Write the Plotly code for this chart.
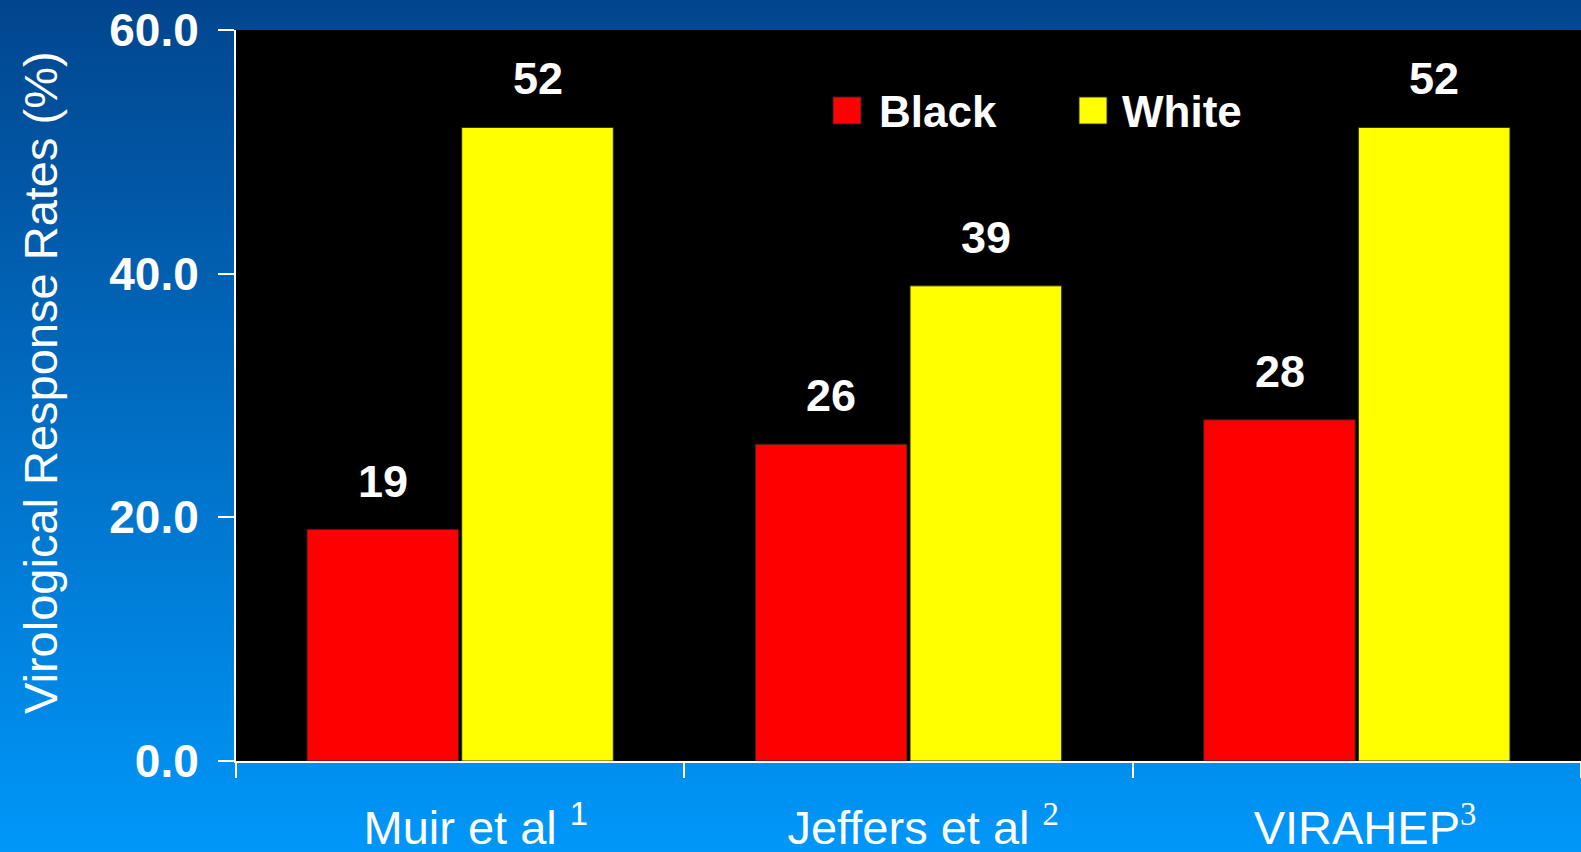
import base64
import plotly.graph_objects as go

# ---- data ----
studies = ["Muir et al", "Jeffers et al", "VIRAHEP"]
refs = ["1", "2", "3"]
series_names = ["Black", "White"]
black_vals = [19, 26, 28]
white_vals = [52, 39, 52]
y_ticks = [0, 20, 40, 60]

# ---- style ----
W, H = 1581, 852
ML, MR, MT, MB = 236, 0, 30, 91
PW, PH = W - ML - MR, H - MT - MB
colors = ["#FF0000", "#FFFF00"]
SANS = "Liberation Sans, Arial, sans-serif"
SERIF = "Liberation Serif, Times New Roman, serif"
BARGAP = 0.31

ticktext = []
for s, r in zip(studies, refs):
    fam = SANS if r == "1" else SERIF
    sep = "" if r == "3" else " "
    sup = f"<sup><span style='font-family:{fam}'>{r}</span></sup>"
    pad = f"<sup><span style='font-family:{fam};fill-opacity:0'>{r}</span></sup>"
    ticktext.append(f"{pad}{sep}{s}{sep}{sup}")

fig = go.Figure()
for name, vals, col in zip(series_names, [black_vals, white_vals], colors):
    fig.add_trace(go.Bar(
        name=name, x=studies, y=vals,
        marker=dict(color=col, line=dict(color="rgba(40,40,40,0.9)", width=1)),
        showlegend=False,
    ))

# value labels
annotations = []
slot = (1 - BARGAP) / 2
for k, vals in enumerate([black_vals, white_vals]):
    for i, v in enumerate(vals):
        cx = i - (1 - BARGAP) / 2 + slot * (k + 0.5)
        annotations.append(dict(
            x=cx, y=v, xref="x", yref="y", text=str(v), showarrow=False,
            yanchor="bottom", xanchor="center", yshift=21,
            font=dict(family=SANS, size=45, color="white", weight="bold"),
        ))

# y-axis title
annotations.append(dict(
    x=(40 - ML) / PW, y=(H - MB - 383) / PH, xref="paper", yref="paper",
    text="Virological Response Rates (%)", textangle=-90, showarrow=False,
    xanchor="center", yanchor="middle",
    font=dict(family=SANS, size=47, color="white"),
))

# legend (manual, large swatches)
legend_pos = [(833, 880), (1079, 1123)]
shapes = [dict(type="rect", xref="paper", yref="paper", x0=0, x1=1, y0=0, y1=1,
               fillcolor="black", line=dict(width=0), layer="below")]
for (sx, tx), name, col in zip(legend_pos, series_names, colors):
    shapes.append(dict(
        type="rect", xref="paper", yref="paper",
        x0=(sx - ML) / PW, x1=(sx + 28 - ML) / PW,
        y0=(H - MB - 124) / PH, y1=(H - MB - 97) / PH,
        fillcolor=col, line=dict(color="rgba(40,40,40,0.9)", width=1), layer="above",
    ))
    annotations.append(dict(
        x=(tx - 3 - ML) / PW, y=(H - MB - 112) / PH, xref="paper", yref="paper",
        text=name, showarrow=False, xanchor="left", yanchor="middle",
        font=dict(family=SANS, size=44, color="white", weight="bold"),
    ))

# background gradient
svg = ('<svg xmlns="http://www.w3.org/2000/svg" width="100" height="100" preserveAspectRatio="none">'
       '<defs><linearGradient id="g" x1="0" y1="0" x2="0" y2="1">'
       '<stop offset="0" stop-color="#02458E"/><stop offset="1" stop-color="#0097F9"/>'
       '</linearGradient></defs><rect width="100" height="100" fill="url(#g)"/></svg>')
src = "data:image/svg+xml;base64," + base64.b64encode(svg.encode()).decode()

fig.update_layout(
    width=W, height=H,
    margin=dict(l=ML, r=MR, t=MT, b=MB, pad=0),
    paper_bgcolor="#0070C8", plot_bgcolor="black",
    barmode="group", bargap=BARGAP, bargroupgap=0.02,
    annotations=annotations, shapes=shapes,
    images=[dict(source=src, xref="paper", yref="paper",
                 x=-ML / PW, y=1 + MT / PH, sizex=W / PW, sizey=H / PH,
                 xanchor="left", yanchor="top", sizing="stretch", layer="below")],
    xaxis=dict(
        type="category", range=[-0.5, 2.5], tickmode="array",
        tickvals=studies, ticktext=ticktext, tickson="boundaries",
        showline=True, linecolor="white", linewidth=2,
        ticks="outside", ticklen=15, tickwidth=2, tickcolor="white",
        tickfont=dict(family=SANS, size=47, color="white"),
        ticklabelstandoff=25, showgrid=False, automargin=False,
    ),
    yaxis=dict(
        range=[0, 60], tickvals=y_ticks, tickformat=".1f",
        showline=True, linecolor="white", linewidth=2,
        ticks="outside", ticklen=16, tickwidth=2, tickcolor="white",
        tickfont=dict(family=SANS, size=46, color="white", weight="bold"),
        ticklabelstandoff=10, showgrid=False, zeroline=False, automargin=False,
    ),
)

fig.write_html("out.html")
